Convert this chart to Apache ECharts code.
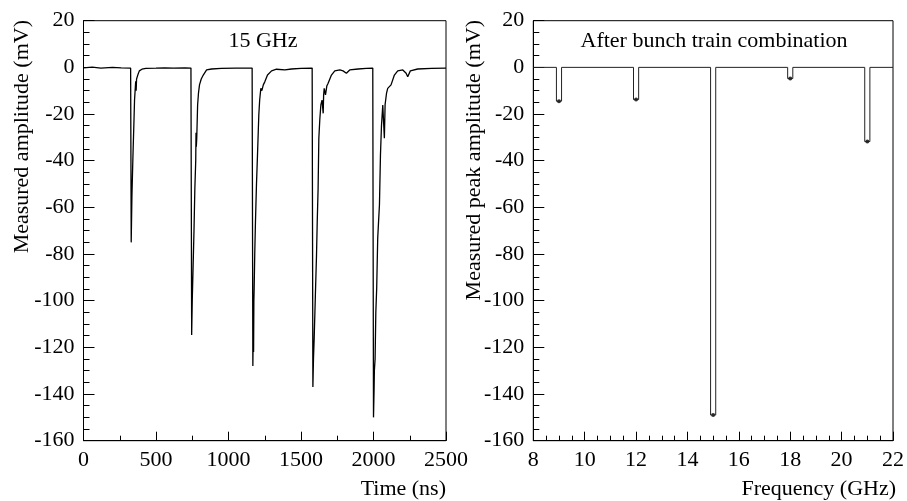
<!DOCTYPE html>
<html>
<head>
<meta charset="utf-8">
<script src="https://cdn.jsdelivr.net/npm/echarts@6/dist/echarts.min.js"></script>
<style>
html,body{margin:0;padding:0;background:#fff;}
#chart{width:907px;height:501px;}
</style>
</head>
<body>
<div id="chart"></div>
<script>
// Left panel: oscilloscope trace at 15 GHz (time in ns, amplitude in mV)
var traceTimeNs = [
  0, 60, 120, 200, 260, 325,
  329, 334, 341, 348, 352, 357, 360, 363, 366, 369, 377, 385, 403, 430, 500, 560, 620, 700, 741,
  746, 750, 755, 762, 768, 774, 776, 778, 781, 787, 793, 800, 812, 826, 849, 883, 950, 1050, 1163,
  1168, 1171, 1173, 1175, 1177, 1181, 1186, 1193, 1200, 1205, 1209, 1215, 1223, 1230, 1240, 1251, 1269, 1297, 1331, 1389, 1434, 1500, 1577,
  1582, 1586, 1591, 1599, 1607, 1612, 1618, 1623, 1630, 1637, 1645, 1653, 1656, 1660, 1665, 1669, 1678, 1687, 1710, 1733, 1768, 1790, 1813, 1836, 1894, 1950, 1995,
  2000, 2004, 2006, 2011, 2016, 2022, 2029, 2035, 2041, 2048, 2055, 2064, 2070, 2075, 2080, 2090, 2098, 2110, 2121, 2144, 2167, 2202, 2225, 2236, 2254, 2305, 2400, 2500
];
var traceAmplitudeMv = [
  -0.2, 0.1, -0.3, 0, -0.2, -0.3,
  -75, -55, -38, -23, -14, -9, -6, -10, -5, -4.7, -2.8, -1.5, -0.8, -0.4, -0.3, -0.2, -0.3, -0.2, -0.3,
  -114.7, -100, -87.6, -70, -51.8, -40, -28, -34, -30.4, -16.1, -11, -7.5, -5, -3.3, -1.1, -0.7, -0.4, -0.3, -0.3,
  -128, -110, -122, -100, -94.7, -80, -66, -50, -37.5, -28, -20.4, -14, -9, -10, -7.5, -6.1, -3.3, -1.5, -0.8, -1.1, -0.7, -0.4, -0.3,
  -137, -125, -116, -98, -80.4, -66, -51.8, -30.4, -22, -16.1, -14, -19.7, -12, -9, -10.5, -11.8, -8, -6.8, -3.3, -1.5, -1.1, -1.5, -2.5, -1.1, -0.7, -0.4, -0.3,
  -150, -138, -130, -125, -105, -94.7, -73.3, -66, -59, -37.5, -25, -16.1, -24, -30.4, -16, -11, -9, -8.5, -7.5, -3.3, -1.5, -1.1, -2.5, -4, -1.5, -0.7, -0.4, -0.3
];

// Right panel: peak amplitude after bunch train combination
var freqGHz = [9, 12, 15, 18, 21];
var peakMv = [-14.5, -13.8, -149, -4.8, -31.8];
var binHalfWidthGHz = 0.1;

// Axis ticks
var yTicks = { min: -160, max: 20, interval: 20 };
var timeTicks = { min: 0, max: 2500, interval: 500 };
var freqTicks = { min: 8, max: 22, interval: 2 };

var trace = traceTimeNs.map(function (t, i) { return [t, traceAmplitudeMv[i]]; });

var stepLine = [[freqTicks.min, 0]];
freqGHz.forEach(function (f, i) {
  stepLine.push([f - binHalfWidthGHz, 0]);
  stepLine.push([f - binHalfWidthGHz, peakMv[i]]);
  stepLine.push([f + binHalfWidthGHz, peakMv[i]]);
  stepLine.push([f + binHalfWidthGHz, 0]);
});
stepLine.push([freqTicks.max, 0]);
var peakDots = freqGHz.map(function (f, i) { return [f, peakMv[i]]; });

var FONT = "'Liberation Serif', 'DejaVu Serif', serif";
var FS = 22;
var labelStyle = { color: '#000', fontFamily: FONT, fontSize: FS, formatter: function (v) { return String(v); } };

function xAx(grid, ticks, minorSplit) {
  return {
    gridIndex: grid, type: 'value', min: ticks.min, max: ticks.max, interval: ticks.interval,
    axisLine: { show: true, onZero: false, lineStyle: { color: '#000', width: 1 } },
    axisTick: { show: true, inside: true, length: 9, lineStyle: { color: '#000', width: 1 } },
    minorTick: { show: true, splitNumber: minorSplit, length: 5, lineStyle: { color: '#000', width: 1 } },
    splitLine: { show: false },
    axisLabel: Object.assign({ margin: 9, showMinLabel: true, showMaxLabel: true }, labelStyle)
  };
}
function yAx(grid) {
  return {
    gridIndex: grid, type: 'value', min: yTicks.min, max: yTicks.max, interval: yTicks.interval,
    axisLine: { show: true, onZero: false, lineStyle: { color: '#000', width: 1 } },
    axisTick: { show: true, inside: true, length: 11, lineStyle: { color: '#000', width: 1 } },
    minorTick: { show: true, splitNumber: 4, length: 6, lineStyle: { color: '#000', width: 1 } },
    splitLine: { show: false },
    axisLabel: Object.assign({ margin: 9, showMinLabel: true, showMaxLabel: true }, labelStyle)
  };
}

var chart = echarts.init(document.getElementById('chart'), null, { renderer: 'canvas' });
chart.setOption({
  animation: false,
  backgroundColor: '#fff',
  grid: [
    { left: 83.5, top: 20.7, width: 362.5, height: 420, show: true, borderColor: '#000', borderWidth: 1, backgroundColor: 'transparent' },
    { left: 533.3, top: 20.7, width: 362.7, height: 420, show: true, borderColor: '#000', borderWidth: 1, backgroundColor: 'transparent' }
  ],
  xAxis: [xAx(0, timeTicks, 2), xAx(1, freqTicks, 4)],
  yAxis: [yAx(0), yAx(1)],
  series: [
    {
      type: 'line', xAxisIndex: 0, yAxisIndex: 0, data: trace, showSymbol: false, symbol: 'none',
      lineStyle: { color: '#000', width: 1.3 }, silent: true
    },
    {
      type: 'line', xAxisIndex: 1, yAxisIndex: 1, data: stepLine, showSymbol: false, symbol: 'none',
      lineStyle: { color: '#222', width: 1 }, silent: true
    },
    {
      type: 'scatter', xAxisIndex: 1, yAxisIndex: 1, data: peakDots, symbol: 'circle', symbolSize: 4,
      itemStyle: { color: '#000' }, silent: true
    }
  ],
  graphic: [
    { type: 'text', x: 263, y: 41, style: { text: '15 GHz', font: FS + 'px ' + FONT, fill: '#000', align: 'center', verticalAlign: 'middle' } },
    { type: 'text', x: 714, y: 41, style: { text: 'After bunch train combination', font: FS + 'px ' + FONT, fill: '#000', align: 'center', verticalAlign: 'middle' } },
    { type: 'text', x: 446, y: 489, style: { text: 'Time (ns)', font: FS + 'px ' + FONT, fill: '#000', align: 'right', verticalAlign: 'middle' } },
    { type: 'text', x: 896, y: 489, style: { text: 'Frequency (GHz)', font: FS + 'px ' + FONT, fill: '#000', align: 'right', verticalAlign: 'middle' } },
    { type: 'text', x: 22, y: 20, rotation: Math.PI / 2, style: { text: 'Measured amplitude (mV)', font: FS + 'px ' + FONT, fill: '#000', align: 'right', verticalAlign: 'middle' } },
    { type: 'text', x: 474, y: 20, rotation: Math.PI / 2, style: { text: 'Measured peak amplitude (mV)', font: FS + 'px ' + FONT, fill: '#000', align: 'right', verticalAlign: 'middle' } }
  ]
});
</script>
</body>
</html>
